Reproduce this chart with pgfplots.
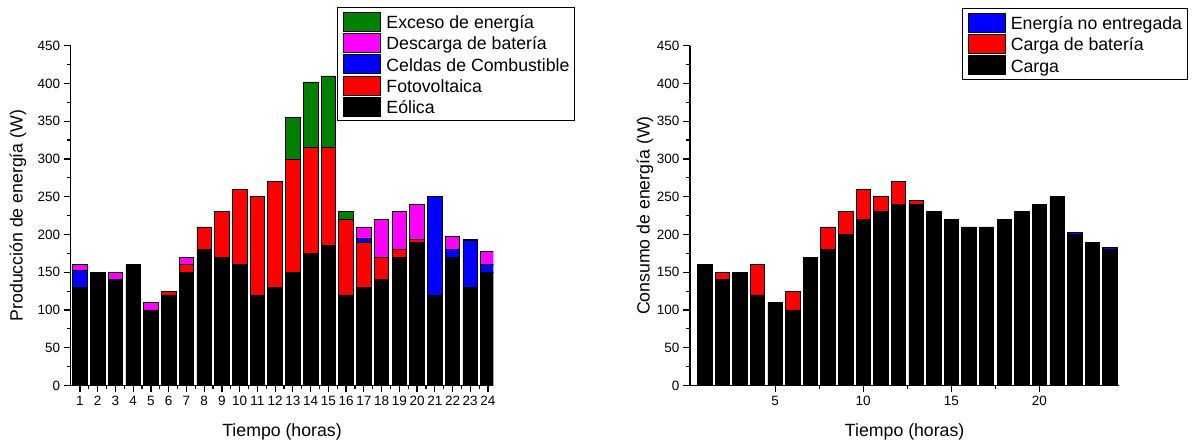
\documentclass[border=0pt]{standalone}
\usepackage{fontspec}
\setmainfont{Liberation Sans}
\usepackage{pgfplots}
\usepackage{pgfplotstable}
\pgfplotsset{compat=1.18}
\definecolor{cgreen}{RGB}{0,128,0}
\definecolor{cmag}{RGB}{255,0,255}
\definecolor{cblue}{RGB}{0,0,255}
\definecolor{cred}{RGB}{255,0,0}
\newcommand{\ph}{\vphantom{Éy}}

\pgfplotstableread{
x eol fv fc desc exc
1 130 0 23 7 0
2 150 0 0 0 0
3 140 0 0 10 0
4 160 0 0 0 0
5 100 0 0 10 0
6 120 5 0 0 0
7 150 10 0 10 0
8 180 30 0 0 0
9 170 60 0 0 0
10 160 100 0 0 0
11 120 130 0 0 0
12 130 140 0 0 0
13 150 150 0 0 55
14 175 140 0 0 87
15 185 130 0 0 95
16 120 100 0 0 10
17 130 60 5 15 0
18 140 30 0 50 0
19 170 10 0 50 0
20 190 4 0 46 0
21 120 0 130 0 0
22 170 0 10 17 0
23 130 0 62 0 2
24 150 0 10 17 0
}\prod

\pgfplotstableread{
x carga bat ne
1 160 0 0
2 140 10 0
3 150 0 0
4 120 40 0
5 110 0 0
6 100 25 0
7 170 0 0
8 180 30 0
9 200 30 0
10 220 40 0
11 230 20 0
12 240 30 0
13 240 5 0
14 230 0 0
15 220 0 0
16 210 0 0
17 210 0 0
18 220 0 0
19 230 0 0
20 240 0 0
21 250 0 0
22 200 0 3
23 190 0 0
24 180 0 3
}\cons

\pgfplotsset{
  common/.style={
    scale only axis,
    height=339.8pt,
    ymin=0, ymax=450,
    ytick={0,50,...,450},
    minor y tick num=1,
    axis x line*=bottom,
    axis y line*=left,
    axis line style={-, line width=1.2pt},
    every tick/.style={line width=1.2pt, black},
    tick align=outside,
    major tick length=7pt,
    minor tick length=4pt,
    ybar stacked,
    bar width=0.82,
    tick label style={font=\fontsize{13.5}{16}\selectfont},
    /pgf/number format/assume math mode=true,
    label style={font=\fontsize{17.7}{21}\selectfont},
    reverse legend,
    legend cell align=left,
    legend style={draw=black, line width=1pt, inner xsep=5.5pt, inner ysep=4pt,
      font=\fontsize{17.7}{21}\selectfont,
      nodes={inner sep=0pt},
      cells={anchor=west},
      row sep=1.5pt, column sep=5.3pt, anchor=north west},
    legend image code/.code={\draw[#1, draw=black, line width=0.8pt] (0pt,-9.5pt) rectangle (37pt,9.5pt);},
    every axis plot/.append style={draw=black, line width=0.7pt},
  }
}

\begin{document}
\begin{tikzpicture}
\useasboundingbox (0pt,0pt) rectangle (1198pt,446pt);
\begin{axis}[common,
  at={(70.7pt,60.5pt)}, anchor=south west,
  width=422.6pt,
  xmin=0.476, xmax=24.3,
  xtick={1,...,24},
  minor x tick num=1,
  xlabel={Tiempo (horas)},
  ylabel={Producción de energía (W)},
  xlabel style={at={(axis description cs:0.5,-0.137)}, anchor=center},
  ylabel style={at={(axis description cs:-0.1247,0.5)}, anchor=center},
  legend style={at={(0.631,1.113)}},
]
\addplot[fill=black] table[x=x,y=eol] {\prod};
\addplot[fill=cred] table[x=x,y=fv] {\prod};
\addplot[fill=cblue] table[x=x,y=fc] {\prod};
\addplot[fill=cmag] table[x=x,y=desc] {\prod};
\addplot[fill=cgreen] table[x=x,y=exc] {\prod};
\legend{\ph Eólica,\ph Fotovoltaica,\ph Celdas de Combustible,\ph Descarga de batería,\ph Exceso de energía}
\end{axis}

\begin{axis}[common,
  at={(690pt,60.5pt)}, anchor=south west,
  width=429.3pt,
  xmin=0.17, xmax=24.53,
  xtick={5,10,15,20},
  minor x tick num=1,
  xlabel={Tiempo (horas)},
  ylabel={Consumo de energía (W)},
  xlabel style={at={(axis description cs:0.5,-0.137)}, anchor=center},
  ylabel style={at={(axis description cs:-0.1048,0.5)}, anchor=center},
  legend style={at={(0.633,1.110)}},
]
\addplot[fill=black] table[x=x,y=carga] {\cons};
\addplot[fill=cred] table[x=x,y=bat] {\cons};
\addplot[fill=cblue] table[x=x,y=ne] {\cons};
\legend{\ph Carga,\ph Carga de batería,\ph Energía no entregada}
\end{axis}
\end{tikzpicture}
\end{document}
